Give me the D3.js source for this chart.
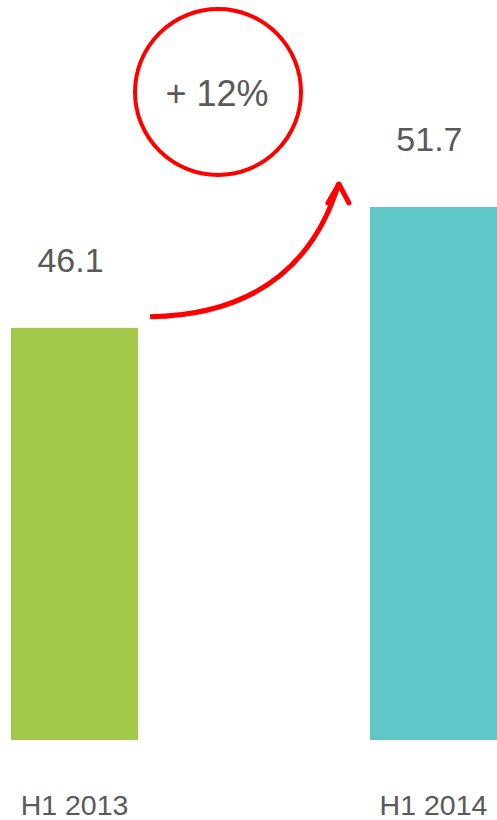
<!DOCTYPE html>
<html>
  <head>
    <meta charset="utf-8">
    <script src="https://d3js.org/d3.v7.min.js"></script>
    <style>
      body { margin: 0; background: white; }
      text { font-family: Arial, "Liberation Sans", sans-serif; fill: #595959; }
    </style>
  </head>
  <body>
    <div id="chart"></div>
<script>
var periods = ["H1 2013", "H1 2014"];
var values = [46.1, 51.7];
var barColors = ["#a2c94a", "#61c6c8"];
var growthLabel = "+ 12%";

var width = 497, height = 820;

var svg = d3.select("#chart").append("svg")
  .attr("width", width)
  .attr("height", height);

var x = d3.scaleBand()
  .domain(periods)
  .range([11, 497])
  .paddingInner(0.646)
  .paddingOuter(0);

var bw = x.bandwidth();

// bars start at 740 and value axis does not start at zero
var y = d3.scaleLinear()
  .domain([27, 51.7])
  .range([740, 207]);

svg.selectAll(".bar")
  .data(values)
  .enter().append("rect")
  .attr("class", "bar")
  .attr("x", function (d, i) { return x(periods[i]); })
  .attr("y", function (d) { return y(d); })
  .attr("width", bw)
  .attr("height", function (d) { return y(27) - y(d); })
  .attr("fill", function (d, i) { return barColors[i]; });

svg.selectAll(".val")
  .data(values)
  .enter().append("text")
  .attr("class", "val")
  .attr("x", function (d, i) { return x(periods[i]) + bw / 2 - 4; })
  .attr("y", function (d) { return y(d) - 56; })
  .attr("text-anchor", "middle")
  .style("font-size", "34px")
  .text(function (d) { return d.toFixed(1); });

svg.selectAll(".cat")
  .data(periods)
  .enter().append("text")
  .attr("class", "cat")
  .attr("x", function (d) { return x(d) + bw / 2; })
  .attr("y", 815)
  .attr("text-anchor", "middle")
  .style("font-size", "28.5px")
  .text(function (d) { return d; });

// growth arrow between the bar tops
var x0 = x(periods[0]) + bw + 12, y0 = y(values[0]) - 11;
var x1 = x(periods[1]) - 31, y1 = y(values[1]) - 24;
var arrow = d3.path();
arrow.moveTo(x0, y0);
arrow.quadraticCurveTo(x1 - 40, y0 - 3, x1, y1);

svg.append("path")
  .attr("d", arrow.toString())
  .attr("fill", "none")
  .attr("stroke", "#ff0000")
  .attr("stroke-width", 5);

svg.append("path")
  .attr("d", "M" + (x1 - 11) + "," + (y1 + 20) + "L" + x1 + "," + (y1 + 1) + "L" + (x1 + 10) + "," + (y1 + 20))
  .attr("fill", "none")
  .attr("stroke", "#ff0000")
  .attr("stroke-width", 5)
  .attr("stroke-linecap", "round")
  .attr("stroke-linejoin", "round");

svg.append("circle")
  .attr("cx", 218)
  .attr("cy", 92)
  .attr("r", 83)
  .attr("fill", "none")
  .attr("stroke", "#ff0000")
  .attr("stroke-width", 4);

svg.append("text")
  .attr("x", 217)
  .attr("y", 106)
  .attr("text-anchor", "middle")
  .style("font-size", "36px")
  .text(growthLabel);
</script>
  </body>
</html>
